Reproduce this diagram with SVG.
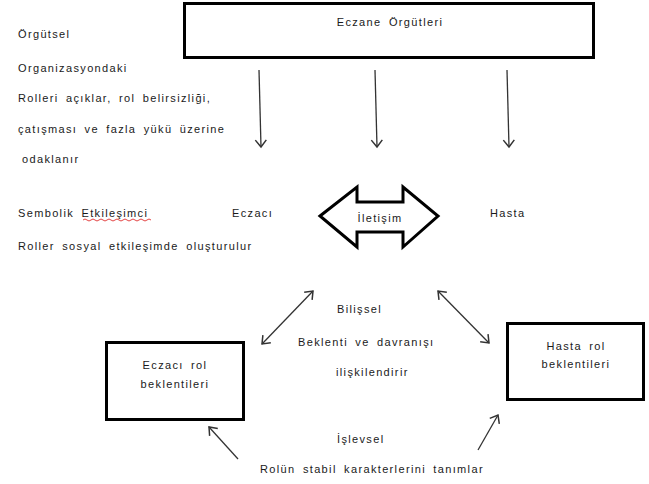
<svg xmlns="http://www.w3.org/2000/svg" width="649" height="484" viewBox="0 0 649 484">
<style>
  text { font-family: "Liberation Sans", Arial, sans-serif; font-size: 11px; letter-spacing: 1.35px; word-spacing: 3px; fill: #1a1a1a; }
  .c { text-anchor: middle; }
  .box { fill: #fff; stroke: #000; stroke-width: 3; }
  .ln { fill: none; stroke: #333; stroke-width: 1.3; }
</style>
<defs>
  <marker id="ah" markerUnits="userSpaceOnUse" viewBox="-10 -7 12 14" refX="0" refY="0" markerWidth="12" markerHeight="14" orient="auto-start-reverse">
    <path d="M-7,-5.5 L0,0 L-7,5.5" fill="none" stroke="#333" stroke-width="1.5"/>
  </marker>
</defs>
<rect width="649" height="484" fill="#fff"/>

<g id="texts-left">
  <text x="18" y="38">Örgütsel</text>
  <text x="18" y="72">Organizasyondaki</text>
  <text x="18" y="102">Rolleri açıklar,  rol belirsizliği,</text>
  <text x="18" y="133">çatışması ve fazla yükü üzerine</text>
  <text x="22" y="163">odaklanır</text>
  <text x="18" y="217">Sembolik Etkileşimci</text>
  <path d="M83,220 q2,-2 4,0 t4,0 t4,0 t4,0 t4,0 t4,0 t4,0 t4,0 t4,0 t4,0 t4,0 t4,0 t4,0 t4,0 t4,0 t4,0 t4,0" fill="none" stroke="#e03030" stroke-width="0.9"/>
  <text x="18" y="250">Roller sosyal etkileşimde oluşturulur</text>
</g>

<g id="eczane">
  <rect class="box" x="184.5" y="3.5" width="409" height="54"/>
  <text class="c" x="390" y="26">Eczane Örgütleri</text>
</g>

<g id="eczaci">
  <text x="232" y="217">Eczacı</text>
</g>

<g id="hasta">
  <text x="490" y="217">Hasta</text>
</g>

<g id="iletisim">
  <polygon points="320,216 357,187 357,202 403,202 403,187 438,216 403,247 403,232 357,232 357,247" fill="#fff" stroke="#000" stroke-width="3" stroke-linejoin="miter"/>
  <text class="c" x="380" y="222">İletişim</text>
</g>

<g id="bilissel">
  <text x="337" y="313">Bilişsel</text>
  <text x="298" y="346">Beklenti ve davranışı</text>
  <text x="336" y="376">ilişkilendirir</text>
</g>

<g id="eczaci-rol">
  <rect class="box" x="106.5" y="342.5" width="137" height="77"/>
  <text class="c" x="175" y="369">Eczacı rol</text>
  <text class="c" x="175" y="388">beklentileri</text>
</g>

<g id="hasta-rol">
  <rect class="box" x="507.5" y="323.5" width="136" height="76"/>
  <text class="c" x="576" y="350">Hasta rol</text>
  <text class="c" x="576" y="368">beklentileri</text>
</g>

<g id="islevsel">
  <text x="337" y="443">İşlevsel</text>
  <text x="260" y="473">Rolün stabil karakterlerini  tanımlar</text>
</g>

<g id="connectors">
  <line class="ln" x1="259" y1="70" x2="261" y2="147" marker-end="url(#ah)"/>
  <line class="ln" x1="375" y1="70" x2="377" y2="147" marker-end="url(#ah)"/>
  <line class="ln" x1="507" y1="70" x2="509" y2="147" marker-end="url(#ah)"/>
  <line class="ln" x1="313" y1="291" x2="262" y2="344" marker-start="url(#ah)" marker-end="url(#ah)"/>
  <line class="ln" x1="438" y1="291" x2="489" y2="343" marker-start="url(#ah)" marker-end="url(#ah)"/>
  <line class="ln" x1="238" y1="459" x2="209" y2="427" marker-end="url(#ah)"/>
  <line class="ln" x1="478" y1="450" x2="498" y2="415" marker-end="url(#ah)"/>
</g>
</svg>
